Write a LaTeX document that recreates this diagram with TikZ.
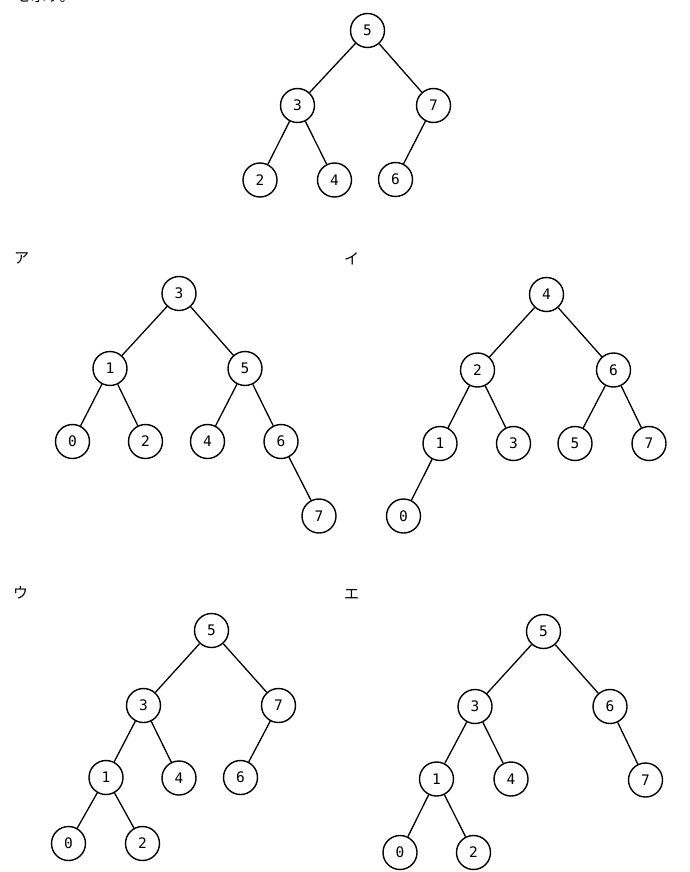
\documentclass[tikz,border=0pt]{standalone}
\usepackage{fontspec}
\newfontfamily\jp{Noto Sans CJK JP}
\newfontfamily\dig{DejaVu Sans Mono}
\begin{document}
\begin{tikzpicture}[x=1pt,y=-1pt,
  nd/.style={draw,circle,minimum size=34pt,inner sep=0pt,line width=1.4pt,font=\dig\fontsize{14.5}{14.5}\selectfont},
  ed/.style={line width=1.3pt},
  lab/.style={font=\jp\fontsize{15}{15}\selectfont,inner sep=0pt}]
\useasboundingbox (0,0) rectangle (690,872);
\begin{scope}
\clip (0,0) rectangle (690,872);
\node[lab,anchor=south west] (cut) at (16,3) {を示す。};
\end{scope}
% top tree
\node[nd] (t5) at (367.5,30.5) {5};
\node[nd] (t3) at (297.5,105.5) {3};
\node[nd] (t7) at (433.5,105.5) {7};
\node[nd] (t2) at (260,180) {2};
\node[nd] (t4) at (334.5,180) {4};
\node[nd] (t6) at (395.5,179.5) {6};
\draw[ed] (t5)--(t3) (t5)--(t7) (t3)--(t2) (t3)--(t4) (t7)--(t6);
% labels
\node[lab] (la) at (21.5,258) {ア};
\node[lab] (li) at (351.5,259) {イ};
\node[lab] (lu) at (20.5,593) {ウ};
\node[lab] (le) at (351.5,594) {エ};
% tree a
\node[nd] (a3) at (179,293.5) {3};
\node[nd] (a1) at (110,368.5) {1};
\node[nd] (a5) at (245,368.5) {5};
\node[nd] (a0) at (72.5,441.5) {0};
\node[nd] (a2) at (145.5,441.5) {2};
\node[nd] (a4) at (207.5,441.5) {4};
\node[nd] (a6) at (281,441.5) {6};
\node[nd] (a7) at (319,516) {7};
\draw[ed] (a3)--(a1) (a3)--(a5) (a1)--(a0) (a1)--(a2) (a5)--(a4) (a5)--(a6) (a6)--(a7);
% tree i
\node[nd] (i4) at (546.5,294.5) {4};
\node[nd] (i2) at (477.5,370) {2};
\node[nd] (i6) at (613.5,370) {6};
\node[nd] (i1) at (440,443.5) {1};
\node[nd] (i3) at (513.5,443.5) {3};
\node[nd] (i5) at (575,443.5) {5};
\node[nd] (i7) at (649,443.5) {7};
\node[nd] (i0) at (403.5,516) {0};
\draw[ed] (i4)--(i2) (i4)--(i6) (i2)--(i1) (i2)--(i3) (i6)--(i5) (i6)--(i7) (i1)--(i0);
% tree u
\node[nd] (u5) at (211.5,630.5) {5};
\node[nd] (u3) at (143.5,705.5) {3};
\node[nd] (u7) at (278.5,705.5) {7};
\node[nd] (u1) at (106,777.5) {1};
\node[nd] (u4) at (179,778) {4};
\node[nd] (u6) at (240.5,777.5) {6};
\node[nd] (u0) at (68.5,843.5) {0};
\node[nd] (u2) at (142.5,843.5) {2};
\draw[ed] (u5)--(u3) (u5)--(u7) (u3)--(u1) (u3)--(u4) (u7)--(u6) (u1)--(u0) (u1)--(u2);
% tree e
\node[nd] (e5) at (543.5,631.5) {5};
\node[nd] (e3) at (475,706.5) {3};
\node[nd] (e6) at (610,706.5) {6};
\node[nd] (e1) at (436.5,779) {1};
\node[nd] (e4) at (511,779) {4};
\node[nd] (e7) at (645.5,780) {7};
\node[nd] (e0) at (400,852.5) {0};
\node[nd] (e2) at (473.5,852.5) {2};
\draw[ed] (e5)--(e3) (e5)--(e6) (e3)--(e1) (e3)--(e4) (e6)--(e7) (e1)--(e0) (e1)--(e2);
\end{tikzpicture}
\end{document}
